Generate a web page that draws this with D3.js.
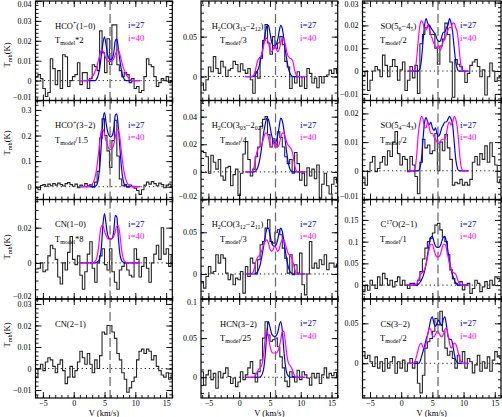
<!DOCTYPE html>
<html><head><meta charset="utf-8">
<script src="https://cdn.jsdelivr.net/npm/d3@7"></script>
<style>
body{margin:0;background:#fff}
svg{display:block}
text{font-family:"Liberation Serif","DejaVu Serif",serif;fill:#000}
</style>
</head><body>
<svg id="c" width="502" height="417"></svg>
<script>
// ---------- channel grids ----------
const chanStart = -6.0, chanWidth = 0.4;      // observed spectra: channel centres
const modelStart = 1.0, modelStep = 0.25;     // model spectra grid
const vSys = 5.9;
const vDomain = [-6.2, 16];
const xMajorTicks = [-5, 0, 5, 10, 15];

// ---------- observed spectra (Tmb, K) ----------
const obsHCO10 = [0.002,0.003,0.001,-0.004,-0.008,-0.006,0.011,0.006,-0.002,0.005,
 -0.004,0.013,0.012,-0.003,0.000,0.002,0.003,0.009,-0.002,0.004,
 0.004,-0.004,0.001,0.008,0.007,0.005,0.025,0.014,0.004,0.021,
 0.008,0.028,0.028,0.008,0.005,0.002,0.004,0.003,-0.001,0.001,
 -0.004,-0.003,-0.006,-0.005,0.002,0.011,0.008,0.007,0.002,-0.003,
 -0.001,0.001,0.000,0.002,-0.001,0.000];
const obsHCO32 = [-0.005,-0.012,0.005,0.008,0.002,0.010,0.004,0.012,0.006,0.014,
 0.008,0.003,0.012,0.016,0.008,0.002,0.010,-0.004,0.006,0.002,
 0.012,0.004,0.008,-0.002,0.018,0.060,0.190,0.265,0.200,0.140,
 0.075,0.180,0.260,0.120,0.030,0.004,0.008,-0.002,0.006,0.002,
 -0.006,-0.015,-0.030,-0.012,0.006,0.018,0.010,0.020,0.012,0.004,
 0.014,0.008,-0.004,0.006,0.010,0.002];
const obsCN10 = [-0.0035,-0.003,0.0,-0.005,-0.004,0.004,0.010,0.008,0.002,-0.008,
 -0.012,0.0,-0.004,0.006,0.015,0.002,-0.001,0.004,-0.007,-0.015,
 -0.005,0.005,0.012,-0.003,-0.011,0.0,0.004,0.008,-0.001,-0.004,
 0.008,-0.005,-0.011,-0.015,-0.004,-0.002,0.0,-0.004,-0.007,-0.008,
 0.008,0.002,-0.008,-0.002,0.003,-0.003,-0.011,0.0,0.005,0.010,
 0.002,0.020,0.005,0.008,-0.002,0.004];
const obsCN21 = [-0.004,0.0,0.002,-0.001,0.003,0.005,0.004,0.001,-0.002,0.002,
 0.004,-0.001,-0.007,-0.004,0.001,-0.004,-0.001,0.003,0.008,0.005,
 0.002,0.007,0.002,-0.002,0.004,0.0,0.006,0.017,0.016,0.020,
 0.020,0.017,0.014,0.007,0.004,-0.002,-0.005,-0.011,-0.009,-0.006,
 -0.004,0.004,0.008,0.009,0.007,0.009,0.008,0.004,0.006,0.001,
 -0.001,-0.003,-0.004,-0.002,-0.005,-0.003];
const obsH2CO1 = [-0.008,-0.017,-0.004,0.012,0.006,0.025,0.010,0.004,0.019,0.012,
 0.0,0.008,0.010,0.019,0.015,0.006,0.016,0.008,0.004,0.010,
 -0.004,-0.021,0.006,-0.002,0.023,0.045,0.065,0.042,0.028,0.050,
 0.035,0.042,0.050,0.040,0.019,0.012,-0.015,0.0,-0.008,0.006,
 -0.012,0.0,-0.015,0.010,0.004,-0.008,-0.002,-0.014,0.0,-0.008,
 0.0,0.002,0.008,0.004,0.010,0.004];
const obsH2CO2 = [0.015,0.014,0.011,-0.001,0.012,0.007,0.002,0.009,-0.003,-0.006,
 0.003,0.004,-0.010,-0.002,0.002,-0.017,-0.001,0.013,0.022,0.009,
 -0.003,0.002,0.011,0.018,0.033,0.038,0.040,0.027,0.018,0.024,
 0.018,0.029,0.025,0.018,0.011,0.006,0.009,-0.001,0.014,0.006,
 -0.006,-0.001,-0.010,0.003,-0.003,0.002,-0.005,0.005,-0.019,-0.009,
 -0.001,-0.010,-0.016,-0.009,-0.004,-0.008];
const obsH2CO3 = [-0.009,-0.017,-0.003,0.009,0.001,0.003,0.023,0.013,0.023,0.019,
 0.001,-0.007,-0.001,-0.013,-0.005,-0.007,0.003,-0.023,0.009,-0.003,
 0.019,0.013,0.0,0.017,0.035,0.039,0.055,0.065,0.039,0.037,
 0.050,0.053,0.047,0.031,0.019,0.001,0.023,-0.001,0.011,0.001,
 0.025,-0.013,-0.025,0.0,0.039,0.007,0.013,0.007,0.017,0.011,
 0.023,0.005,0.013,0.013,0.008,0.012];
const obsHCN = [0.007,-0.010,0.003,0.009,-0.003,0.005,-0.014,0.007,-0.001,0.005,
 0.012,0.001,-0.008,-0.001,-0.012,-0.006,0.007,-0.003,0.003,0.012,
 0.020,0.005,-0.006,0.007,0.022,0.050,0.071,0.054,0.046,0.048,
 0.050,0.039,0.026,0.012,-0.005,-0.012,0.007,0.001,-0.006,0.009,
 -0.003,0.007,0.003,-0.001,-0.010,0.005,-0.001,0.005,-0.008,0.003,
 0.012,-0.001,0.005,0.002,0.006,0.001];
const obsSO1 = [-0.002,0.0,-0.0085,-0.004,0.0,0.002,0.0005,-0.0025,0.007,0.0025,
 -0.0025,0.002,0.005,0.002,-0.004,0.0005,0.004,-0.0085,-0.004,0.002,
 -0.003,0.0025,-0.0098,0.012,0.016,0.019,0.020,0.016,0.016,0.010,
 0.003,0.011,0.014,0.021,0.016,0.004,-0.0115,0.005,0.003,0.002,
 0.0,-0.005,-0.001,0.0025,0.004,0.005,0.002,-0.0025,0.0005,-0.0105,
 -0.0025,0.0035,0.0,-0.0045,-0.003,-0.002];
const obsSO2 = [-0.0026,-0.005,-0.0003,0.003,0.005,-0.0003,0.0008,0.003,0.005,0.002,
 0.007,0.005,0.010,0.0137,0.006,0.002,0.005,0.004,-0.0003,0.005,
 0.002,-0.002,-0.008,0.003,0.011,0.008,0.009,0.006,0.007,0.013,
 0.0,0.010,0.007,0.0126,0.008,0.004,-0.005,-0.004,-0.0045,-0.003,
 -0.005,-0.004,-0.005,-0.003,0.003,0.005,0.002,0.006,0.004,0.0087,
 0.003,0.0098,0.005,0.002,-0.004,-0.003];
const obsC17O = [-0.015,0.0,-0.012,0.011,0.0,-0.008,0.019,0.0,0.027,0.015,
 0.0,0.011,-0.004,0.008,0.019,0.0,0.011,0.0,-0.008,0.004,
 0.004,0.0,0.011,0.031,0.060,0.085,0.100,0.108,0.120,0.138,
 0.142,0.127,0.110,0.100,0.070,0.035,0.015,0.004,0.0,0.008,
 -0.011,0.0,0.004,-0.019,-0.008,0.011,0.004,-0.015,-0.004,0.008,
 -0.008,0.011,0.0,0.019,0.015,0.010];
const obsCS = [0.0146,0.006,0.010,0.002,-0.004,0.008,-0.006,0.002,-0.010,0.006,
 -0.006,0.002,0.008,-0.0125,0.002,-0.006,0.004,-0.010,0.0,0.006,
 -0.006,0.002,-0.025,-0.037,-0.015,0.019,0.027,0.031,0.040,0.056,
 0.048,0.065,0.040,0.019,0.010,0.015,0.006,-0.006,0.010,0.002,
 0.0146,-0.006,0.006,0.002,-0.012,-0.002,0.010,-0.010,0.002,-0.006,
 0.008,-0.010,0.004,0.0146,0.008,0.006];

// ---------- model spectra (scaled), i=27 and i=40 ----------
const modHCO10_27 = [0,0,0,0,0,0,0,0,0,0,0,.001,.003,.007,.013,.019,.022,.018,.013,.011,.0105,.011,.014,.020,.021,.016,.010,.005,.002,.0005,0,0,0,0,0,0,0,0,0,0];
const modHCO10_40 = [0,0,0,0,0,0,.0005,.001,.002,.003,.005,.007,.010,.013,.0155,.015,.013,.011,.010,.0095,.0095,.010,.011,.013,.015,.0155,.013,.010,.007,.005,.003,.002,.001,.0003,0,0,0,0,0,0];
const modHCO32_27 = [0,0,0,0,0,0,0,0,0,0,.002,.008,.030,.085,.170,.260,.290,.250,.215,.200,.195,.200,.225,.280,.285,.230,.150,.075,.028,.008,.002,0,0,0,0,0,0,0,0,0];
const modHCO32_40 = [0,0,0,0,0,0,.002,.005,.010,.020,.040,.075,.125,.180,.220,.225,.205,.180,.160,.148,.145,.150,.165,.195,.222,.222,.190,.135,.085,.048,.025,.012,.005,.002,0,0,0,0,0,0];
const modCN10_27 = [0,0,0,0,0,0,0,0,0,0,0,.0005,.001,.003,.009,.022,.028,.022,.016,.014,.0135,.014,.018,.027,.026,.014,.005,.0015,.0005,0,0,0,0,0,0,0,0,0,0,0];
const modCN10_40 = [0,0,0,0,0,0,0,0,0,.0003,.001,.003,.008,.016,.021,.021,.018,.0155,.014,.0135,.0135,.014,.015,.018,.021,.021,.016,.008,.003,.001,.0003,0,0,0,0,0,0,0,0,0];
const modH2CO1_27 = [0,0,0,0,0,0,.001,.004,.008,.013,.022,.032,.043,.055,.063,.064,.055,.044,.039,.038,.040,.046,.057,.064,.060,.048,.033,.020,.010,.004,.001,0,0,0,0,0,0,0,0,0];
const modH2CO1_40 = [0,0,0,0,0,.001,.004,.012,.020,.023,.025,.030,.040,.047,.048,.042,.034,.031,.034,.038,.036,.031,.034,.042,.048,.047,.040,.030,.025,.023,.022,.018,.008,.002,0,0,0,0,0,0];
const modH2CO2_27 = [0,0,0,0,0,0,0,.001,.003,.007,.013,.021,.029,.035,.039,.038,.033,.027,.023,.021,.022,.026,.033,.039,.037,.031,.022,.013,.006,.002,.0005,0,0,0,0,0,0,0,0,0];
const modH2CO2_40 = [0,0,0,0,0,.001,.005,.012,.016,.018,.019,.021,.025,.028,.028,.025,.020,.018,.020,.023,.021,.018,.020,.025,.028,.028,.025,.021,.019,.018,.016,.012,.005,.001,0,0,0,0,0,0];
const modH2CO3_27 = [0,0,0,0,0,0,0,.001,.003,.007,.014,.024,.035,.046,.054,.055,.047,.038,.034,.033,.035,.041,.050,.055,.051,.040,.027,.016,.008,.003,.001,0,0,0,0,0,0,0,0,0];
const modH2CO3_40 = [0,0,0,0,0,.002,.008,.016,.020,.022,.025,.030,.036,.040,.041,.037,.030,.027,.029,.033,.031,.027,.030,.037,.041,.041,.036,.029,.024,.022,.020,.014,.006,.001,0,0,0,0,0,0];
const modHCN_27 = [0,0,0,0,0,0,0,0,0,0,.001,.004,.012,.030,.058,.071,.064,.056,.053,.052,.053,.057,.066,.071,.060,.035,.015,.005,.0015,0,0,0,0,0,0,0,0,0,0,0];
const modHCN_40 = [0,0,0,0,0,0,.001,.004,.008,.011,.013,.018,.032,.052,.060,.052,.040,.033,.031,.031,.031,.033,.038,.048,.058,.059,.045,.028,.018,.015,.012,.007,.002,0,0,0,0,0,0,0];
const modSO1_27 = [0,0,0,0,0,0,0,0,.001,.005,.013,.020,.023,.021,.020,.019,.018,.017,.016,.014,.013,.013,.015,.017,.017,.019,.020,.023,.021,.017,.010,.004,.001,0,0,0,0,0,0,0];
const modSO1_40 = [0,0,0,0,0,.001,.006,.014,.020,.022,.021,.018,.018,.020,.019,.016,.014,.012,.011,.010,.011,.009,.011,.013,.014,.016,.018,.019,.019,.021,.021,.019,.017,.011,.004,.0005,0,0,0,0];
const modSO2_27 = [0,0,0,0,0,0,0,0,.001,.004,.011,.017,.0185,.017,.016,.017,.015,.014,.015,.013,.012,.013,.015,.016,.017,.017,.018,.019,.018,.016,.010,.004,.001,0,0,0,0,0,0,0];
const modSO2_40 = [0,0,0,0,0,.001,.006,.013,.017,.019,.018,.015,.015,.017,.015,.013,.013,.012,.011,.010,.0095,.010,.011,.011,.011,.013,.016,.017,.016,.017,.019,.018,.015,.009,.003,.0005,0,0,0,0];
const modC17O_27 = [0,0,0,0,0,0,0,.002,.006,.012,.020,.032,.050,.072,.095,.110,.112,.100,.090,.087,.087,.090,.100,.110,.112,.100,.078,.055,.036,.022,.012,.005,.001,0,0,0,0,0,0,0];
const modC17O_40 = [0,0,0,0,0,0,.003,.012,.022,.027,.030,.036,.048,.066,.084,.094,.094,.082,.070,.065,.065,.070,.082,.094,.094,.084,.066,.048,.036,.030,.028,.025,.015,.005,.001,0,0,0,0,0];
const modCS_27 = [0,0,0,0,0,0,0,0,.002,.008,.015,.022,.030,.036,.045,.055,.058,.050,.046,.050,.054,.050,.047,.055,.058,.048,.034,.030,.030,.024,.012,.004,.001,0,0,0,0,0,0,0];
const modCS_40 = [0,0,0,0,0,.003,.010,.018,.024,.025,.020,.019,.025,.036,.044,.042,.035,.033,.036,.040,.039,.035,.033,.036,.042,.044,.036,.025,.019,.022,.025,.024,.018,.010,.003,0,0,0,0,0];

// ---------- panel labels ----------
const lineNames = [
  [["HCO",0],["+",1],["(1−0)",0]],
  [["HCO",0],["+",1],["(3−2)",0]],
  [["CN(1−0)",0]],
  [["CN(2−1)",0]],
  [["H",0],["2",-1],["CO(3",0],["13",-1],["−2",0],["12",-1],[")",0]],
  [["H",0],["2",-1],["CO(3",0],["03",-1],["−2",0],["02",-1],[")",0]],
  [["H",0],["2",-1],["CO(3",0],["12",-1],["−2",0],["11",-1],[")",0]],
  [["HCN(3−2)",0]],
  [["SO(5",0],["6",-1],["−4",0],["5",-1],[")",0]],
  [["SO(5",0],["4",-1],["−4",0],["3",-1],[")",0]],
  [["C",0],["17",1],["O(2−1)",0]],
  [["CS(3−2)",0]]
];
const modelScales = ["*2","/1.5","*8",null,"/3","/4","/3","/25","/2","/2","/1","/2"];
const yDomains = [[-0.01,0.04],[-0.05,0.337],[-0.0205,0.036],[-0.0137,0.0323],
  [-0.03,0.0946],[-0.02,0.0517],[-0.03,0.0893],[-0.0265,0.1],
  [-0.0129,0.0307],[-0.01,0.0245],[-0.032,0.197],[-0.0434,0.0804]];
const yMajor = [0.01,0.1,0.02,0.01, 0.05,0.02,0.05,0.05, 0.01,0.01,0.05,0.05];
const yMinor = [0.002,0.02,0.005,0.002, 0.01,0.005,0.01,0.01, 0.002,0.002,0.01,0.01];
const obsList = [obsHCO10,obsHCO32,obsCN10,obsCN21,obsH2CO1,obsH2CO2,obsH2CO3,obsHCN,obsSO1,obsSO2,obsC17O,obsCS];
const mod27List = [modHCO10_27,modHCO32_27,modCN10_27,null,modH2CO1_27,modH2CO2_27,modH2CO3_27,modHCN_27,modSO1_27,modSO2_27,modC17O_27,modCS_27];
const mod40List = [modHCO10_40,modHCO32_40,modCN10_40,null,modH2CO1_40,modH2CO2_40,modH2CO3_40,modHCN_40,modSO1_40,modSO2_40,modC17O_40,modCS_40];

// ---------- layout ----------
const colX = [[35.5,172.3],[201,337.7],[362.5,501]];
const rowY = [[1,100.5],[100.5,199.5],[199.5,299],[299,398]];
const nameDx = [[19.5,19.5,19.5,19.5],[10.7,10.7,10.7,19],[18,18,18,18]];
const scaleDx = [19.5,19,17.5];
const iDx = [92.5,99,97.5];
const yLabelCentres = [55,143,247,335];

const svg = d3.select("#c");
const defs = svg.append("defs");
const fmt = v => Math.abs(v) < 1e-9 ? "0" : (v < 0 ? "−" : "") + String(+Math.abs(v).toFixed(3));
function stepTicks(dom, step){
  const out = [];
  const s = Math.ceil(dom[0]/step - 1e-6), e = Math.floor(dom[1]/step + 1e-6);
  for (let i = s; i <= e; i++) out.push(+(i*step).toFixed(6));
  return out;
}
function richText(g, x, y, segs, size, color){
  const t = g.append("text").attr("x", x).attr("y", y).attr("font-size", size).style("fill", color || "#000");
  let shift = 0;
  segs.forEach(([s, m]) => {
    const target = m === 1 ? -3.4 : m === -1 ? 2.3 : 0;
    t.append("tspan").attr("dy", target - shift).attr("font-size", m === 0 ? size : size*0.7).text(s);
    shift = target;
  });
  return t;
}

for (let p = 0; p < 12; p++){
  const col = Math.floor(p/4), row = p % 4;
  const [x0, x1] = colX[col], [y0, y1] = rowY[row];
  const x = d3.scaleLinear().domain(vDomain).range([x0, x1]);
  const y = d3.scaleLinear().domain(yDomains[p]).range([y1, y0]);
  const g = svg.append("g");
  const cid = "clip" + p;
  defs.append("clipPath").attr("id", cid).append("rect")
    .attr("x", x0).attr("y", y0).attr("width", x1 - x0).attr("height", y1 - y0);
  const inner = g.append("g").attr("clip-path", `url(#${cid})`);

  // zero line
  inner.append("line").attr("x1", x0).attr("x2", x1).attr("y1", y(0)).attr("y2", y(0))
    .attr("stroke", "#000").attr("stroke-width", 0.9).attr("stroke-dasharray", "1.2,3");

  // observed histogram
  const obs = obsList[p];
  const pts = obs.map((t, k) => [chanStart + k*chanWidth, t]);
  pts.unshift([chanStart - chanWidth/2, obs[0]]);
  pts.push([chanStart + (obs.length - 1)*chanWidth + chanWidth/2, obs[obs.length - 1]]);
  inner.append("path").datum(pts)
    .attr("d", d3.line().x(d => x(d[0])).y(d => y(d[1])).curve(d3.curveStep))
    .attr("fill", "none").attr("stroke", "#262626").attr("stroke-width", 1.1);

  // systemic velocity
  inner.append("line").attr("x1", x(vSys)).attr("x2", x(vSys)).attr("y1", y0).attr("y2", y1)
    .attr("stroke", "#6e6e6e").attr("stroke-width", 1.3).attr("stroke-dasharray", "9,4");

  // models
  const mline = d3.line().x((d, j) => x(modelStart + j*modelStep)).y(d => y(d)).curve(d3.curveMonotoneX);
  if (mod27List[p]) inner.append("path").datum(mod27List[p]).attr("d", mline)
    .attr("fill", "none").attr("stroke", "#0000ff").attr("stroke-width", 1.2);
  if (mod40List[p]) inner.append("path").datum(mod40List[p]).attr("d", mline)
    .attr("fill", "none").attr("stroke", "#ff00ff").attr("stroke-width", 1.2);

  // axes
  const xMinor = d3.range(-6, 16.5, 1);
  const yMaj = stepTicks(yDomains[p], yMajor[p]);
  const yMin = stepTicks(yDomains[p], yMinor[p]);
  const styleAxis = a => { a.select(".domain").remove(); a.selectAll("line").attr("stroke", "#000").attr("stroke-width", 0.9); a.selectAll("text").attr("font-size", 8).style("font-family", '"Liberation Serif", serif'); };
  g.append("g").attr("transform", `translate(0,${y1})`)
    .call(d3.axisBottom(x).tickValues(xMajorTicks).tickSize(-6).tickPadding(2).tickFormat(row === 3 ? d3.format("d") : ""))
    .call(styleAxis);
  g.append("g").attr("transform", `translate(0,${y1})`)
    .call(d3.axisBottom(x).tickValues(xMinor).tickSize(-3).tickFormat("")).call(styleAxis);
  g.append("g").attr("transform", `translate(0,${y0})`)
    .call(d3.axisTop(x).tickValues(xMajorTicks).tickSize(-6).tickFormat("")).call(styleAxis);
  g.append("g").attr("transform", `translate(0,${y0})`)
    .call(d3.axisTop(x).tickValues(xMinor).tickSize(-3).tickFormat("")).call(styleAxis);
  const la = g.append("g").attr("transform", `translate(${x0},0)`)
    .call(d3.axisLeft(y).tickValues(yMaj).tickSize(-6).tickPadding(4).tickFormat(fmt)).call(styleAxis);
  // keep edge labels inside their own panel band so neighbouring labels stay legible
  la.selectAll(".tick text").attr("y", v => {
    const yy = y(v);
    if (yy < y0 + 2.5) return y0 + 2.5 - yy;
    if (yy > y1 - 3.5) return y1 - 3.5 - yy;
    return 0;
  });
  g.append("g").attr("transform", `translate(${x0},0)`)
    .call(d3.axisLeft(y).tickValues(yMin).tickSize(-3).tickFormat("")).call(styleAxis);
  g.append("g").attr("transform", `translate(${x1},0)`)
    .call(d3.axisRight(y).tickValues(yMaj).tickSize(-6).tickFormat("")).call(styleAxis);
  g.append("g").attr("transform", `translate(${x1},0)`)
    .call(d3.axisRight(y).tickValues(yMin).tickSize(-3).tickFormat("")).call(styleAxis);

  // frame
  g.append("rect").attr("x", x0).attr("y", y0).attr("width", x1 - x0).attr("height", y1 - y0)
    .attr("fill", "none").attr("stroke", "#000").attr("stroke-width", 1.2);

  // labels
  richText(g, x0 + nameDx[col][row], y0 + 27.5, lineNames[p], 8.5);
  if (modelScales[p]){
    richText(g, x0 + scaleDx[col], y0 + 42, [["T",0],["model",-1],[modelScales[p],0]], 8.5);
    richText(g, x0 + iDx[col], y0 + 27.3, [["i=27",0]], 9, "#0000ff");
    richText(g, x0 + iDx[col], y0 + 39.7, [["i=40",0]], 9, "#ff00ff");
  }
  if (col === 0){
    const t = svg.append("text").attr("transform", `translate(10,${yLabelCentres[row]}) rotate(-90)`)
      .attr("text-anchor", "middle").attr("font-size", 8.5);
    t.append("tspan").text("T");
    t.append("tspan").attr("dy", 2.2).attr("font-size", 6.2).text("mb");
    t.append("tspan").attr("dy", -2.2).text("(K)");
  }
  if (row === 3){
    svg.append("text").attr("x", (x0 + x1)/2).attr("y", 415.5).attr("text-anchor", "middle")
      .attr("font-size", 8.5).text("V (km/s)");
  }
}
</script>
</body></html>
